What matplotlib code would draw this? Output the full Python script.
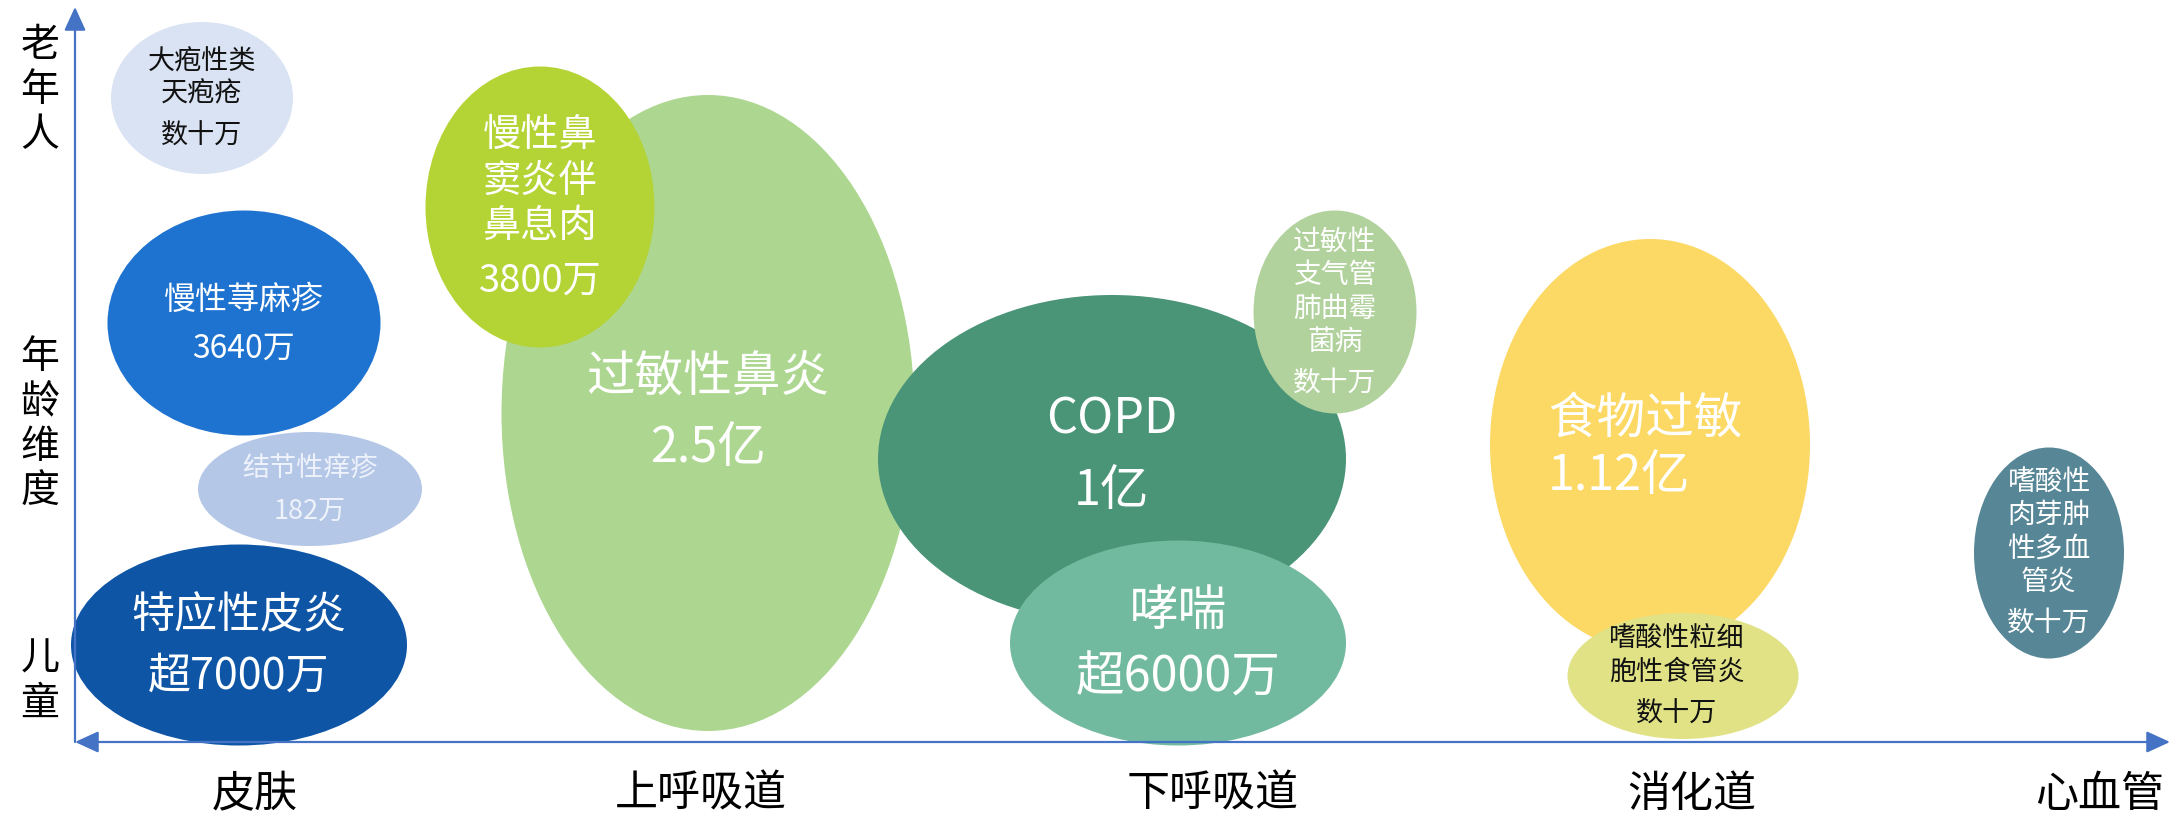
import matplotlib.pyplot as plt
from matplotlib.patches import Ellipse, FancyArrowPatch

plt.rcParams['font.family'] = ['Noto Sans CJK SC', 'DejaVu Sans']

# canvas is laid out in pixel units of the 2172x818 picture
W, H = 2172, 818

# bubbles: disease, population, position on the (system, age) plane, bubble size
names = ['过敏性鼻炎', '慢性鼻\n窦炎伴\n鼻息肉', '大疱性类\n天疱疮', '慢性荨麻疹', '结节性痒疹',
         '特应性皮炎', 'COPD', '哮喘', '过敏性\n支气管\n肺曲霉\n菌病', '食物过敏',
         '嗜酸性粒细\n胞性食管炎', '嗜酸性\n肉芽肿\n性多血\n管炎']
counts = ['2.5亿', '3800万', '数十万', '3640万', '182万',
          '超7000万', '1亿', '超6000万', '数十万', '1.12亿',
          '数十万', '数十万']
cx = [708, 540, 202, 244, 310, 239, 1112, 1178, 1335, 1650, 1683, 2049]
cy = [413, 207, 98, 323, 489, 645, 459, 643, 312, 445, 676, 553]
bw = [413, 229, 182, 273, 224, 336, 468, 336, 163, 320, 231, 150]
bh = [636, 281, 152, 225, 114, 201, 328, 205, 203, 412, 126, 211]
colors = ['#ADD791', '#B4D334', '#DAE3F3', '#1F73D0', '#B4C7E7', '#0E55A6',
          '#4A9478', '#72BA9F', '#B1D29C', '#FCD864', '#E1E286', '#578797']
txt_colors = ['white', 'white', '#111111', 'white', '#EEF2FA', 'white',
              'white', 'white', 'white', 'white', '#111111', 'white']
font_sizes = [35, 27.5, 19.5, 23, 19.5, 31, 35, 35, 20, 35, 19.5, 20]
name_y = [378, 181, 78, 300, 468, 616, 420, 611, 292, 419, 656, 532]
count_y = [448, 281, 136, 349, 511, 677, 491, 678, 383, 476, 714, 623]

x_labels = ['皮肤', '上呼吸道', '下呼吸道', '消化道', '心血管']
x_label_pos = [255, 701, 1213, 1692, 2100]
y_labels = ['老年人', '年龄维度', '儿童']
y_label_top = [45, 357, 659]

axis_color = '#4472C4'
ox, oy = 75, 742

fig = plt.figure(figsize=(W / 100, H / 100), dpi=100)
ax = fig.add_axes([0, 0, 1, 1])
ax.set_xlim(0, W)
ax.set_ylim(H, 0)
ax.axis('off')


def block(x, yc, text, fs, color, ha='center'):
    # one line at a time, so the pitch is under control
    lines = text.split('\n')
    pitch = fs * 100 / 72 * 1.2
    y0 = yc - pitch * (len(lines) - 1) / 2
    for i, ln in enumerate(lines):
        ax.text(x, y0 + i * pitch, ln, fontsize=fs, color=color,
                ha=ha, va='center', zorder=5)


for i in range(len(names)):
    e = Ellipse((cx[i], cy[i]), bw[i], bh[i], facecolor=colors[i],
                edgecolor='none', zorder=2 + i * 0.01)
    ax.add_patch(e)
    if names[i] == '食物过敏':
        block(1548, name_y[i], names[i], font_sizes[i], txt_colors[i], ha='left')
        block(1548, count_y[i], counts[i], font_sizes[i], txt_colors[i], ha='left')
    else:
        xt = cx[i] if names[i] != '嗜酸性粒细\n胞性食管炎' else 1677
        block(xt, name_y[i], names[i], font_sizes[i], txt_colors[i])
        block(xt, count_y[i], counts[i], font_sizes[i], txt_colors[i])

# axes with arrow heads
ax.add_patch(FancyArrowPatch((ox, oy), (ox, 7), arrowstyle='-|>,head_length=1.2,head_width=0.55',
                             mutation_scale=12, color=axis_color, lw=1.6,
                             shrinkA=0, shrinkB=0, zorder=4))
ax.add_patch(FancyArrowPatch((ox, oy), (2170, oy), arrowstyle='<|-|>,head_length=1.2,head_width=0.55',
                             mutation_scale=12, color=axis_color, lw=1.6,
                             shrinkA=0, shrinkB=0, zorder=4))

for lab, xp in zip(x_labels, x_label_pos):
    ax.text(xp, 795, lab, fontsize=31, color='black', ha='center', va='center')

for lab, yt in zip(y_labels, y_label_top):
    for k, ch in enumerate(lab):
        ax.text(40, yt + k * 45, ch, fontsize=28, color='black', ha='center', va='center')

fig.savefig('out.png', dpi=100, facecolor='white')
